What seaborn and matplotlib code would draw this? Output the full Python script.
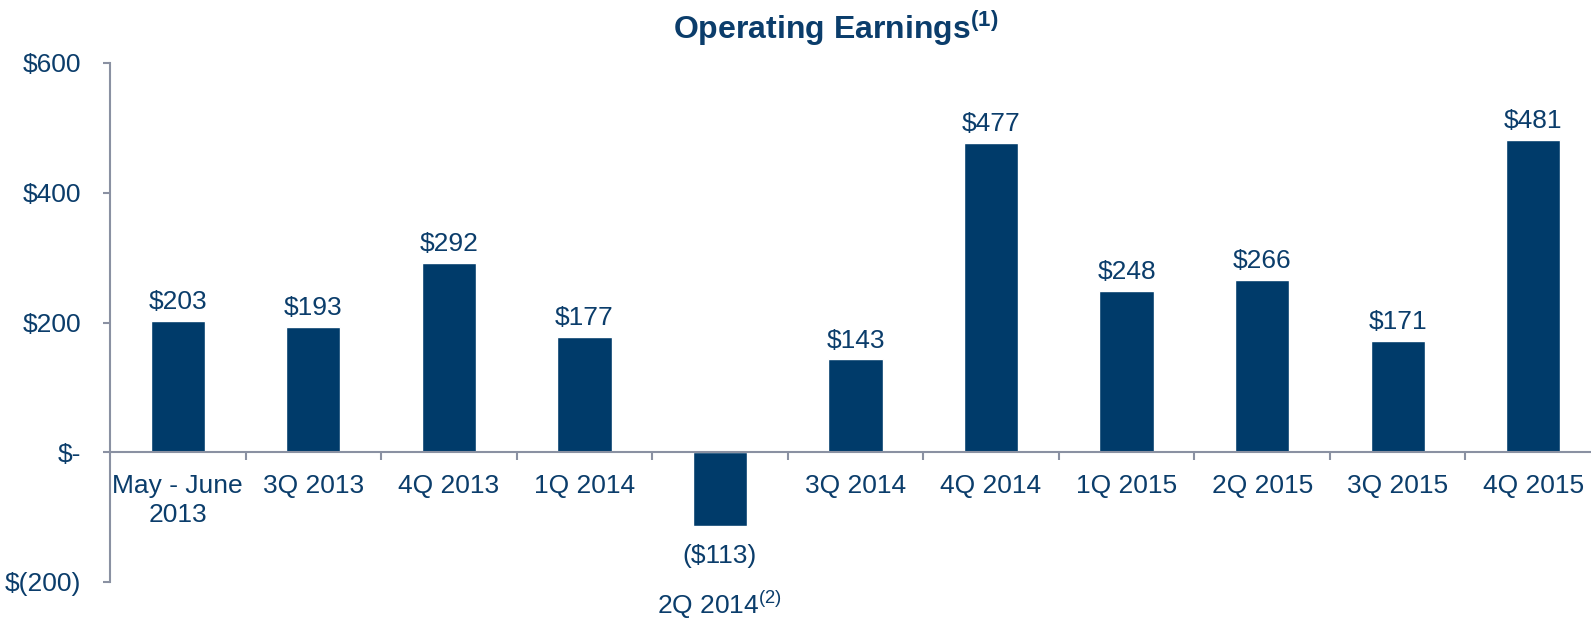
import matplotlib
matplotlib.use("Agg")
import matplotlib.pyplot as plt
import seaborn as sns
import pandas as pd

categories = ["May - June\n2013", "3Q 2013", "4Q 2013", "1Q 2014", "2Q 2014",
              "3Q 2014", "4Q 2014", "1Q 2015", "2Q 2015", "3Q 2015", "4Q 2015"]
values = [203, 193, 292, 177, -113, 143, 477, 248, 266, 171, 481]
y_ticks = [-200, 0, 200, 400, 600]
y_tick_labels = ["$(200)", "$-", "$200", "$400", "$600"]
title_text = "Operating Earnings"
title_note = "(1)"
special_label = "2Q 2014"
special_note = "(2)"

BAR = "#003B6A"
TXT = "#0B3D6B"
AXC = "#8A91A2"

sns.set_theme(style="white")
plt.rcParams["font.family"] = ["Liberation Sans", "DejaVu Sans"]
plt.rcParams["mathtext.fontset"] = "custom"
plt.rcParams["mathtext.rm"] = "Liberation Sans"
plt.rcParams["mathtext.bf"] = "Liberation Sans:bold"

df = pd.DataFrame({"cat": categories, "val": values})

fig = plt.figure(figsize=(15.91, 6.22), dpi=100)
ax = fig.add_axes([110 / 1591, 40 / 622, (1601 - 110) / 1591, (582 - 63) / 622])
sns.barplot(data=df, x="cat", y="val", color=BAR, width=0.4, saturation=1, ax=ax)

ax.set_xlim(-0.5, len(categories) - 0.5)
ax.set_ylim(-200, 600)
ax.set_xlabel("")
ax.set_ylabel("")

for s in ["top", "right"]:
    ax.spines[s].set_visible(False)
ax.spines["left"].set_color(AXC)
ax.spines["left"].set_linewidth(1.5)
ax.spines["bottom"].set_color(AXC)
ax.spines["bottom"].set_linewidth(1.5)
ax.spines["bottom"].set_position(("data", 0))

ax.set_yticks(y_ticks)
ax.set_yticklabels(y_tick_labels)
ax.tick_params(axis="y", direction="out", length=5, width=1.5, color=AXC,
               labelsize=19, labelcolor=TXT, pad=16, left=True)

xt_labels = [("" if c == special_label else c) for c in categories]
ax.set_xticks(range(len(categories)))
ax.set_xticklabels(xt_labels, linespacing=1.3)
ax.tick_params(axis="x", which="major", length=0, labelsize=19, labelcolor=TXT, pad=15.5)
ax.set_xticks([i + 0.5 for i in range(len(categories) - 1)], minor=True)
ax.tick_params(axis="x", which="minor", direction="out", length=6, width=1.5,
               color=AXC, bottom=True)

cont = ax.containers[0]
pos_labels = [f"${v}" if v >= 0 else "" for v in values]
neg_labels = [f"(${-v})" if v < 0 else "" for v in values]
ax.bar_label(cont, labels=pos_labels, padding=5, fontsize=19, color=TXT)
ax.bar_label(cont, labels=neg_labels, padding=13, fontsize=19, color=TXT)

si = categories.index(special_label)
ax.annotate(special_label + r"$^{\mathrm{" + special_note + r"}}$",
            xy=(si, -200), xycoords="data", xytext=(0, -23), textcoords="offset points",
            ha="center", va="baseline", fontsize=19, color=TXT, annotation_clip=False)

fig.text(836 / 1591, 1 - 28 / 622,
         title_text + r"$^{\mathbf{" + title_note + r"}}$",
         ha="center", va="center", fontsize=23, fontweight="bold", color=TXT)

fig.savefig("out.png", dpi=100)
